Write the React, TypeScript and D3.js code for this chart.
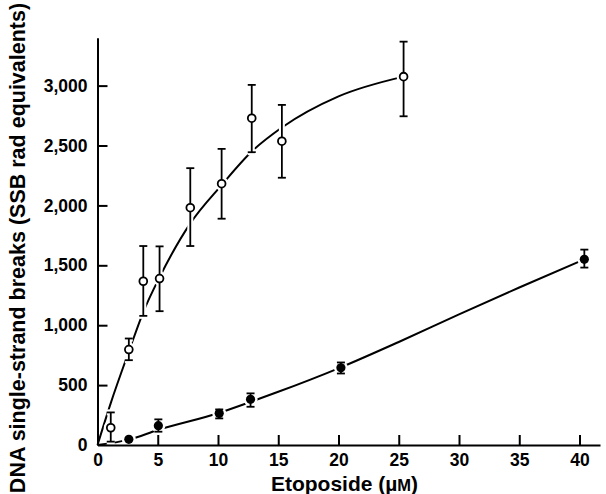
import { useEffect, useRef } from "react";
import * as d3 from "d3";

// open circles: etoposide alone
const openX = [1.1, 2.6, 3.8, 5.15, 7.7, 10.3, 12.8, 15.3, 25.4];
const openY = [144, 797, 1367, 1389, 1981, 2181, 2728, 2536, 3075];
const openLo = [28, 708, 1078, 1117, 1661, 1889, 2444, 2231, 2744];
const openHi = [272, 889, 1661, 1658, 2311, 2472, 3006, 2839, 3367];

// filled circles
const fillX = [2.6, 5.05, 10.1, 12.7, 20.2, 40.4];
const fillY = [47, 161, 264, 381, 644, 1550];
const fillLo = [47, 111, 222, 319, 597, 1481];
const fillHi = [47, 214, 297, 431, 689, 1631];

// fitted curves, points
const openCurveX = [0, 1.1, 2.6, 3.8, 5.15, 7.7, 10.3, 12.8, 15.3, 20, 25.4];
const openCurveY = [0, 350, 780, 1110, 1400, 1850, 2170, 2450, 2650, 2910, 3075];
const fillCurveX = [0, 2.6, 5, 10, 12.7, 15, 20, 25, 30, 35, 40.4];
const fillCurveY = [0, 45, 125, 265, 360, 444, 640, 860, 1090, 1315, 1550];

const xTicks = [0, 5, 10, 15, 20, 25, 30, 35, 40];
const yTicks = [0, 500, 1000, 1500, 2000, 2500, 3000];

const W = 606;
const H = 494;
const FONT = "'Liberation Sans', Arial, Helvetica, sans-serif";

export default function App() {
  const xAxisRef = useRef<SVGGElement>(null);
  const yAxisRef = useRef<SVGGElement>(null);

  const x = d3.scaleLinear().domain([0, 41.7]).range([97.5, 600]);
  const y = d3.scaleLinear().domain([0, 3400]).range([445, 37.7]);

  const line = d3
    .line<[number, number]>()
    .x((d) => x(d[0]))
    .y((d) => y(d[1]))
    .curve(d3.curveMonotoneX);

  const openCurve = openCurveX.map((v, i) => [v, openCurveY[i]] as [number, number]);
  const fillCurve = fillCurveX.map((v, i) => [v, fillCurveY[i]] as [number, number]);

  useEffect(() => {
    document.body.style.margin = "0";
    const gx = d3.select(xAxisRef.current!);
    gx.call(
      d3
        .axisBottom(x)
        .tickValues(xTicks)
        .tickSizeInner(-10)
        .tickSizeOuter(0)
        .tickPadding(9)
        .tickFormat(d3.format("d"))
    );
    gx.selectAll(".tick line").filter((d: any) => d === 0).remove();

    const gy = d3.select(yAxisRef.current!);
    gy.call(
      d3
        .axisLeft(y)
        .tickValues(yTicks)
        .tickSizeInner(-10)
        .tickSizeOuter(0)
        .tickPadding(10)
        .tickFormat(d3.format(","))
    );
    gy.selectAll(".tick line").filter((d: any) => d === 0).remove();

    [gx, gy].forEach((g) => {
      g.select(".domain").attr("stroke", "#000").attr("stroke-width", 2);
      g.selectAll(".tick line").attr("stroke", "#000").attr("stroke-width", 2);
      g.selectAll(".tick text")
        .attr("fill", "#000")
        .style("font-family", FONT)
        .style("font-size", "17.5px")
        .style("font-weight", "bold");
    });
  }, []);

  const errBar = (xv: number, lo: number, hi: number, key: string, halo: boolean) => {
    const px = x(xv);
    const stroke = halo ? "#fff" : "#000";
    const sw = halo ? 6 : 1.8;
    const cw = 4;
    return (
      <g key={key} stroke={stroke} strokeWidth={sw} fill="none">
        <line x1={px} x2={px} y1={y(lo)} y2={y(hi)} />
        <line x1={px - cw} x2={px + cw} y1={y(lo)} y2={y(lo)} />
        <line x1={px - cw} x2={px + cw} y1={y(hi)} y2={y(hi)} />
      </g>
    );
  };

  return (
    <div style={{ position: "absolute", left: 0, top: 0 }}>
      <svg width={W} height={H} style={{ display: "block", background: "#fff" }}>
        <path d={line(openCurve) || ""} fill="none" stroke="#000" strokeWidth={2} />
        <path d={line(fillCurve) || ""} fill="none" stroke="#000" strokeWidth={2} />

        {/* white halos break the curves around the marks */}
        {openX.map((v, i) => errBar(v, openLo[i], openHi[i], "oh" + i, true))}
        {fillX.map((v, i) =>
          fillHi[i] > fillLo[i] ? errBar(v, fillLo[i], fillHi[i], "fh" + i, true) : null
        )}
        {openX.map((v, i) => (
          <circle key={"oc" + i} cx={x(v)} cy={y(openY[i])} r={7} fill="#fff" />
        ))}
        {fillX.map((v, i) => (
          <circle key={"fc" + i} cx={x(v)} cy={y(fillY[i])} r={7} fill="#fff" />
        ))}

        {openX.map((v, i) => errBar(v, openLo[i], openHi[i], "o" + i, false))}
        {fillX.map((v, i) =>
          fillHi[i] > fillLo[i] ? errBar(v, fillLo[i], fillHi[i], "f" + i, false) : null
        )}
        {openX.map((v, i) => (
          <circle
            key={"o" + i}
            cx={x(v)}
            cy={y(openY[i])}
            r={3.9}
            fill="#fff"
            stroke="#000"
            strokeWidth={1.8}
          />
        ))}
        {fillX.map((v, i) => (
          <circle key={"f" + i} cx={x(v)} cy={y(fillY[i])} r={4.6} fill="#000" />
        ))}

        <g ref={xAxisRef} transform={`translate(0,${y(0)})`} />
        <g ref={yAxisRef} transform={`translate(${x(0)},0)`} />

        <text
          x={344.5}
          y={490.5}
          textAnchor="middle"
          style={{ fontFamily: FONT, fontSize: 21, fontWeight: "bold" }}
        >
          Etoposide (µ<tspan style={{ fontSize: 16.5 }}>M</tspan>)
        </text>
        <text
          transform={`translate(25,${248}) rotate(-90)`}
          textAnchor="middle"
          style={{ fontFamily: FONT, fontSize: 21.5, fontWeight: "bold" }}
        >
          DNA single-strand breaks (SSB rad equivalents)
        </text>
      </svg>
    </div>
  );
}
